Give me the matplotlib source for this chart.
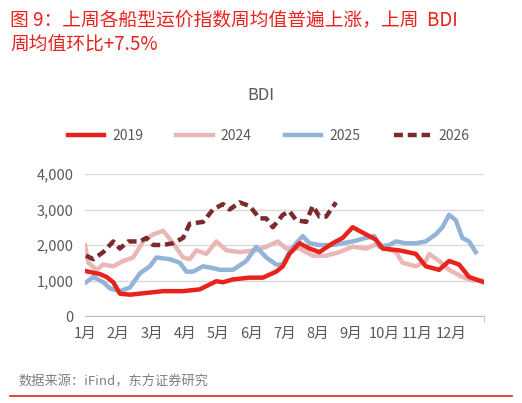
import matplotlib
matplotlib.use("Agg")
import matplotlib.pyplot as plt

plt.rcParams['font.family'] = ['Noto Sans CJK SC', 'DejaVu Sans']

months = ['1月','2月','3月','4月','5月','6月','7月','8月','9月','10月','11月','12月']

px19 = [255,300,320,340,360,390,450,490,550,600,650,670,700,750,790,830,850,870,900,930,960,1000,1030,1060,1100,1130,1150,1200,1250,1280,1320,1350,1380,1410,1455]
v19 = [1270,1180,1100,950,630,600,660,700,700,750,980,950,1030,1080,1080,1250,1400,1750,2050,1900,1800,2050,2200,2500,2300,2150,1900,1850,1750,1400,1300,1550,1450,1100,950]
px24 = [255,265,290,310,340,370,400,430,460,490,520,550,570,590,620,650,680,720,770,800,835,860,900,940,980,1020,1060,1100,1140,1160,1190,1210,1250,1280,1290,1320,1350,1390,1420,1455]
v24 = [2000,1500,1300,1450,1400,1550,1650,2100,2300,2400,2050,1650,1600,1850,1750,2100,1850,1800,1850,1950,2100,1900,1900,1700,1700,1800,1950,1900,2050,1900,1800,1500,1400,1550,1750,1550,1300,1100,1000,1000]
px25 = [258,280,310,330,360,390,420,450,470,510,540,560,580,610,640,660,700,740,770,800,830,850,870,890,910,930,960,1000,1030,1060,1100,1125,1140,1170,1190,1220,1250,1280,1310,1330,1350,1370,1390,1410,1430]
v25 = [950,1100,950,780,700,800,1200,1400,1650,1600,1500,1250,1250,1400,1350,1300,1300,1550,1950,1650,1450,1450,1800,2050,2250,2050,2000,2000,2050,2100,2200,2250,1950,2000,2100,2050,2050,2100,2300,2500,2850,2700,2200,2100,1800]
px26 = [258,280,310,340,360,385,420,440,460,490,520,550,570,610,640,670,690,720,750,780,800,820,850,870,890,920,940,960,980,1010]
v26 = [1700,1600,1800,2100,1900,2100,2100,2200,2000,2000,2050,2200,2600,2650,3000,3150,3000,3200,3100,2750,2750,2500,2850,2950,2700,2650,3100,2800,2800,3200]

def tom(px):
    return [(p - 255) / 100 for p in px]

fig = plt.figure(figsize=(5.22, 4.03), dpi=100)
ax = fig.add_axes([85/522, 87/403, 399/522, 142/403])
ax.plot(tom(px19), v19, color='#e8221d', lw=3.2, label='2019', zorder=3)
ax.plot(tom(px24), v24, color='#e9b8b6', lw=3.2, label='2024', zorder=2)
ax.plot(tom(px25), v25, color='#93b3d8', lw=3.2, label='2025', zorder=2)
ax.plot(tom(px26), v26, color='#7b2a2e', lw=3.2, ls=(0, (2.0, 1.1)), label='2026', zorder=4)

ax.set_xlim(0, 12)
ax.set_ylim(0, 4000)
ax.set_yticks([0, 1000, 2000, 3000, 4000])
ax.set_yticklabels(['0', '1,000', '2,000', '3,000', '4,000'])
ax.set_xticks(range(12))
ax.set_xticklabels(months)
ax.set_xticks(range(13), minor=True)
ax.tick_params(axis='x', which='major', length=0, pad=8)
ax.tick_params(axis='x', which='minor', length=4, color='#bfbfbf')
ax.tick_params(axis='y', length=0, pad=8)
ax.tick_params(labelsize=10.5, labelcolor='#595959')
ax.grid(axis='y', color='#d9d9d9', lw=1)
for s in ['top', 'right', 'left']:
    ax.spines[s].set_visible(False)
ax.spines['bottom'].set_color('#bfbfbf')
ax.set_axisbelow(True)

ax.legend(loc='center', bbox_to_anchor=(0.46, 1.27), ncol=4, frameon=False,
          fontsize=10, handlelength=2.6, handletextpad=0.6, columnspacing=2.4, labelcolor='#595959')
fig.text(0.5, 1 - 96/403, 'BDI', ha='center', va='center', fontsize=12, color='#595959')

fig.text(0.02, 1 - 20/403, '图 9：上周各船型运价指数周均值普遍上涨，上周  BDI', color='#e8221d',
         fontsize=13.5, va='center', ha='left')
fig.text(0.02, 1 - 45/403, '周均值环比+7.5%', color='#e8221d', fontsize=13.5, va='center', ha='left')
fig.text(0.035, 1 - 382/403, '数据来源：iFind，东方证券研究', color='#7f7f7f', fontsize=9.5, va='center')
fig.add_artist(plt.Line2D([0.02, 0.98], [1 - 396/403] * 2, color='#e8221d', lw=1.2))

fig.savefig('out.png', dpi=100)
